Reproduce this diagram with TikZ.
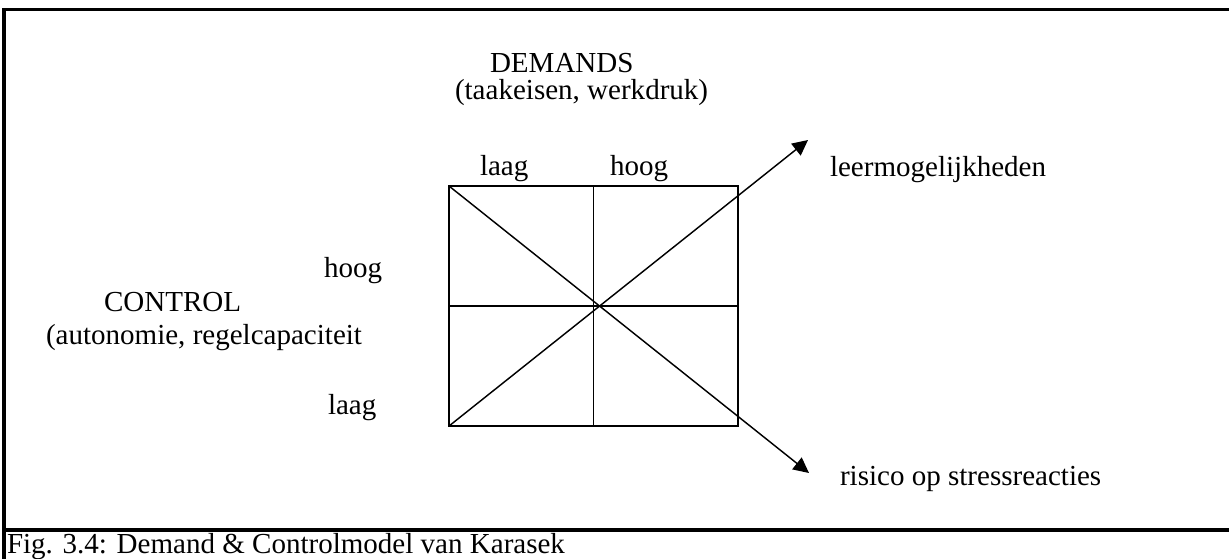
\documentclass[tikz,border=0pt]{standalone}
\usepackage{fontspec}
\setmainfont{Liberation Serif}
\usetikzlibrary{arrows.meta}
\tikzset{
  lbl/.style={anchor=base west, inner sep=0pt, outer sep=0pt, font=\fontsize{12}{14}\selectfont},
  frameline/.style={line width=1.3pt, line cap=rect},
  gridline/.style={line width=0.62pt},
  arr/.style={line width=0.6pt, -{Triangle[length=6.4pt, width=6.2pt]}}
}
\begin{document}
\begin{tikzpicture}[x=0.41333pt, y=-0.41333pt]
\useasboundingbox (0,0) rectangle (1229,558);
\begin{scope}
\clip (0,0) rectangle (1229,558);
% frame
\coordinate (ftl) at (4,9.5);
\coordinate (ftr) at (1240,9.5);
\coordinate (fbl) at (4,570);
\coordinate (fsl) at (4,530);
\coordinate (fsr) at (1240,530);
\draw[frameline] (fbl) -- (ftl) -- (ftr);
\draw[frameline] (fsl) -- (fsr);
\end{scope}
% grid
\coordinate (tl) at (449,186);
\coordinate (tr) at (738,186);
\coordinate (bl) at (449,426);
\coordinate (br) at (738,426);
\coordinate (tm) at (593.5,186);
\coordinate (bm) at (593.5,426);
\coordinate (lm) at (449,306);
\coordinate (rm) at (738,306);
\coordinate (tipup) at (808,140);
\coordinate (tipdown) at (809,473);
\draw[gridline] (tl) rectangle (br);
\draw[gridline] (tm) -- (bm);
\draw[gridline] (lm) -- (rm);
\draw[arr] (bl) -- (tipup);
\draw[arr] (tl) -- (tipdown);
% labels
\node[lbl] (demands) at (490,72) {DEMANDS};
\node[lbl] (demsub) at (455,99) {(taakeisen, werkdruk)};
\node[lbl] (dlow) at (480,175) {laag};
\node[lbl] (dhigh) at (610,175) {hoog};
\node[lbl] (learn) at (830,176) {leermogelijkheden};
\node[lbl] (chigh) at (324,277) {hoog};
\node[lbl] (control) at (104,311) {CONTROL};
\node[lbl] (consub) at (46,344) {(autonomie, regelcapaciteit};
\node[lbl] (clow) at (328,414) {laag};
\node[lbl] (stress) at (840,485) {risico op stressreacties};
\node[lbl] (caption) at (7,553) {Fig. 3.4: Demand \& Controlmodel van Karasek};
\end{tikzpicture}
\end{document}
